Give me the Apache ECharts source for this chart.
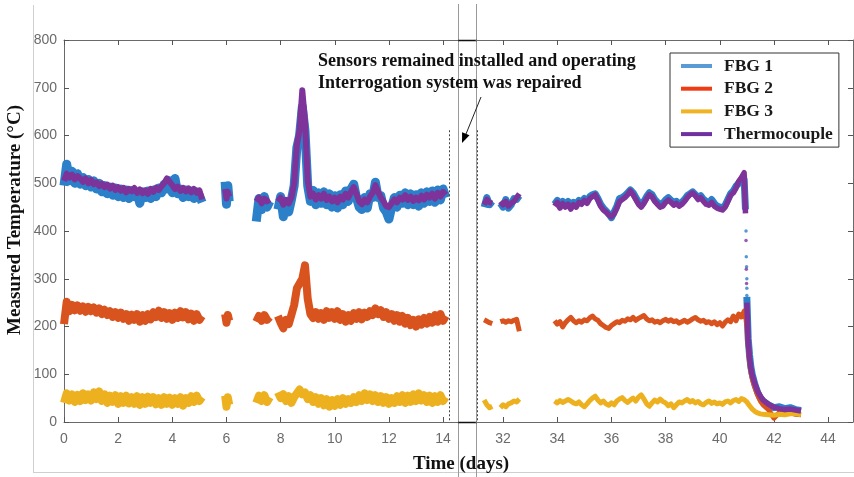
<!DOCTYPE html>
<html><head><meta charset="utf-8">
<script src="https://cdn.jsdelivr.net/npm/echarts@6/dist/echarts.min.js"></script>
<style>html,body{margin:0;padding:0;background:#fff}#c{width:854px;height:477px}</style>
</head><body><div id="c"></div>
<script>
// ---------- data ----------
function steps(start, n) { const a = []; for (let i = 0; i < n; i++) a.push(Math.round((start + i * 0.1) * 100) / 100); return a; }

// sample times of each recorded segment (days)
const tA = steps(0.0, 52);          // 0.0 .. 5.1
const tB = [5.95, 6.0, 6.05, 6.1];
const tC = steps(7.1, 6);           // 7.1 .. 7.6
const tD = steps(7.9, 63);          // 7.9 .. 14.1
const tE = [31.3, 31.4, 31.5, 31.6];
const tF = steps(31.9, 8);          // 31.9 .. 32.6
const tG = steps(33.9, 71);         // 33.9 .. 40.9
const tH = [40.95, 40.97, 41.0, 41.05, 41.1, 41.15, 41.2, 41.3, 41.4, 41.5, 41.6, 41.8, 42.0, 42.2, 42.4, 42.6, 42.8, 43.0];

// FBG 1
const fbg1A = [495,540,505,525,500,520,498,512,495,508,492,505,488,500,482,495,478,492,475,490,472,488,470,486,468,485,472,480,458,482,470,484,468,486,472,490,480,498,488,505,480,510,478,488,470,486,472,484,468,482,474,460];
const fbg1B = [503,456,495,462];
const fbg1C = [420,468,445,472,450,462];
const fbg1D = [445,472,430,462,440,466,495,575,600,660,610,495,462,485,455,480,458,482,455,478,450,474,448,476,455,484,462,488,498,470,450,445,470,448,478,470,502,470,474,448,440,425,450,470,450,475,458,480,455,478,455,476,452,480,458,482,462,484,460,486,465,488,470];
const fbg1E = [450,470,455,462];
const fbg1F = [458,450,466,448,455,468,466,474];
const fbg1G = [456,464,452,462,455,462,450,460,455,464,460,468,462,472,476,478,468,456,448,442,436,428,440,452,468,470,474,480,486,480,470,460,454,462,472,480,476,466,460,456,458,465,470,464,460,462,456,460,466,474,478,482,476,470,474,466,462,458,466,458,452,450,448,454,466,478,484,494,500,505,508];
const fbg1H = [445,null,262,175,140,115,100,78,62,50,44,36,30,32,28,30,26,24];
const fbg1DropT = [40.97, 40.98, 40.99, 41.0, 41.0, 41.0];
const fbg1DropV = [400, 346, 325, 300, 280, 265];

// FBG 2
const fbg2A = [205,252,232,245,234,244,233,242,231,241,232,240,229,238,226,235,224,232,220,230,218,229,216,226,212,225,214,226,210,224,212,226,215,230,220,233,218,230,216,228,214,229,218,232,219,230,215,227,212,226,214,222];
const fbg2B = [226,208,224,212];
const fbg2C = [210,222,212,224,214,220];
const fbg2D = [222,208,196,214,205,225,245,280,290,300,328,258,226,218,230,216,228,214,232,218,230,216,232,214,226,210,224,212,228,216,230,215,229,220,232,224,238,226,234,220,230,216,226,212,224,210,222,206,218,203,214,200,215,204,218,206,220,208,224,210,226,212,222];
const fbg2E = [214,211,208,206];
const fbg2F = [210,212,209,212,210,213,215,190];
const fbg2G = [212,205,210,199,208,214,219,212,208,212,209,214,212,218,222,216,213,206,202,198,196,202,206,210,208,213,211,216,214,219,213,217,220,223,216,212,214,209,211,208,212,215,211,214,210,212,207,210,213,209,212,216,219,214,211,213,208,210,206,210,204,208,201,209,214,210,222,212,226,220,232];
const fbg2H = [228,215,200,160,125,104,90,72,56,44,36,26,8,20,18,19,16,15];

// FBG 3
const fbg3A = [40,60,45,58,42,57,44,60,46,58,45,62,48,64,44,58,40,55,42,56,38,54,40,55,39,52,38,54,36,52,38,53,40,52,37,50,36,52,38,51,36,50,38,52,34,50,40,54,42,55,44,52];
const fbg3B = [55,32,52,36];
const fbg3C = [40,55,44,56,42,52];
const fbg3D = [62,50,58,44,54,40,52,60,68,58,62,48,56,42,52,38,50,35,48,32,46,34,48,36,50,38,48,40,52,42,56,44,60,46,58,44,56,42,54,40,52,38,50,40,54,42,56,40,55,42,58,44,60,45,56,42,55,40,54,42,56,44,52];
const fbg3E = [46,36,30,33];
const fbg3F = [30,36,32,38,40,44,42,48];
const fbg3G = [44,40,45,41,44,47,44,40,38,42,36,32,38,45,50,54,46,40,44,38,35,40,36,44,48,51,45,41,46,50,44,52,57,48,38,33,40,46,42,48,43,40,34,38,30,36,42,40,44,47,42,45,40,43,38,36,41,44,39,42,38,40,37,42,44,40,45,47,43,49,47];
const fbg3H = [48,46,42,38,34,30,27,22,19,17,16,15,14,16,15,17,18,15];

// Thermocouple
const tcA = [505,520,512,518,508,515,510,503,510,500,507,498,502,494,499,492,497,489,495,486,492,484,490,481,488,483,490,480,487,479,485,478,488,482,491,486,494,500,510,503,496,488,493,484,490,483,489,481,488,480,485,466];
const tcB = [488,468,482,472];
const tcC = [462,470,458,468,462,466];
const tcD = [462,470,455,465,458,470,500,580,612,695,630,505,472,478,466,475,468,478,465,472,462,470,460,472,466,478,470,482,492,478,462,456,466,460,472,480,496,482,470,462,452,450,458,466,460,470,466,475,465,472,463,470,464,474,466,476,470,478,468,480,472,482,476];
const tcE = [455,466,460,458];
const tcF = [462,455,462,452,458,462,470,478];
const tcG = [452,460,448,458,450,456,446,455,450,460,456,464,458,468,472,476,465,452,444,440,434,430,436,448,462,466,470,476,484,476,466,456,450,458,468,476,472,462,456,450,452,460,465,460,454,458,452,456,462,470,476,480,474,466,470,462,456,454,460,452,448,446,444,450,462,475,480,490,504,512,522];
const tcH = [437,null,250,168,135,112,98,80,64,54,46,37,31,28,26,27,25,23];
const tcDropT = [40.97, 40.98, 40.99, 41.0];
const tcDropV = [380, 320, 290, 258];

// axes
const yTicks = [0,100,200,300,400,500,600,700,800];
const xTicksLeft = [0,2,4,6,8,10,12,14];
const xTicksRight = [32,34,36,38,40,42,44];
const leftRange = [0, 14.55];
const rightRange = [31, 44.92];
// dotted "break" markers: [time, top value]
const breakLeft = [14.22, 611];
const breakRight = [31.05, 611];

const names = ['FBG 1','FBG 2','FBG 3','Thermocouple'];
const colors = ['#2b80c9','#d9531e','#edb120','#7d3399'];

// ---------- build ----------
function build(segs) {
  const out = [];
  segs.forEach((s, k) => {
    if (k > 0) out.push([s[0][0] - 0.02, '-']);
    s[0].forEach((t, i) => out.push([t, s[1][i] == null ? '-' : s[1][i]]));
  });
  return out;
}
function pairs(ts, vs) { return ts.map((t, i) => [t, vs[i]]); }

const leftData = [
  build([[tA,fbg1A],[tB,fbg1B],[tC,fbg1C],[tD,fbg1D]]),
  build([[tA,fbg2A],[tB,fbg2B],[tC,fbg2C],[tD,fbg2D]]),
  build([[tA,fbg3A],[tB,fbg3B],[tC,fbg3C],[tD,fbg3D]]),
  build([[tA,tcA],[tB,tcB],[tC,tcC],[tD,tcD]])
];
const rightData = [
  build([[tE,fbg1E],[tF,fbg1F],[tG.concat(tH),fbg1G.concat(fbg1H)]]),
  build([[tE,fbg2E],[tF,fbg2F],[tG.concat(tH),fbg2G.concat(fbg2H)]]),
  build([[tE,fbg3E],[tF,fbg3F],[tG.concat(tH),fbg3G.concat(fbg3H)]]),
  build([[tE,tcE],[tF,tcF],[tG.concat(tH),tcG.concat(tcH)]])
];
const leftWidths = [9, 8, 8, 6];
const rightWidths = [7, 5, 5, 5.5];

const dotLine = (t) => ({
  silent: true, symbol: ['none','none'], label: {show:false},
  lineStyle: {type:[2,2], color:'#444', width:1},
  emphasis: {disabled:true},
  data: [[{coord:[t[0], t[1]]},{coord:[t[0], 0]}]]
});

const series = [];
for (let i = 0; i < 4; i++) {
  series.push({
    name: names[i], type:'line', xAxisIndex:0, yAxisIndex:0, data:leftData[i],
    showSymbol:false, symbol:'none', color:colors[i],
    lineStyle:{width:leftWidths[i], color:colors[i], join:'round'}, emphasis:{disabled:true},
    markLine: i === 2 ? dotLine(breakLeft) : undefined
  });
}
for (let i = 0; i < 4; i++) {
  series.push({
    name: names[i], type:'line', xAxisIndex:2, yAxisIndex:1, data:rightData[i],
    showSymbol:false, symbol:'none', color:colors[i],
    lineStyle:{width:rightWidths[i], color:colors[i], join:'round'}, emphasis:{disabled:true},
    markLine: i === 2 ? dotLine(breakRight) : undefined
  });
}
series.push({ name:'FBG 1', type:'scatter', xAxisIndex:2, yAxisIndex:1, symbolSize:3.5, color:colors[0], itemStyle:{color:colors[0]}, data:pairs(fbg1DropT, fbg1DropV) });
series.push({ name:'Thermocouple', type:'scatter', xAxisIndex:2, yAxisIndex:1, symbolSize:3.5, color:colors[3], itemStyle:{color:colors[3]}, data:pairs(tcDropT, tcDropV) });

const axLine = {show:true, lineStyle:{color:'#6a6a6a', width:1}};
const tickIn = (vals) => ({show:true, inside:true, length:5, lineStyle:{color:'#555'}, customValues:vals});
const lblStyle = {color:'#6b6b6b', fontFamily:'Liberation Sans', fontSize:14};

const option = {
  animation:false,
  backgroundColor:'#fff',
  grid:[
    {left:64, top:40, width:394, height:382},
    {left:476, top:40, width:377, height:382}
  ],
  xAxis:[
    {type:'value', gridIndex:0, min:leftRange[0], max:leftRange[1], position:'bottom', axisLine:axLine, axisTick:tickIn(xTicksLeft), splitLine:{show:false}, axisLabel:Object.assign({customValues:xTicksLeft, margin:10}, lblStyle)},
    {type:'value', gridIndex:0, min:leftRange[0], max:leftRange[1], position:'top', axisLine:axLine, axisTick:tickIn(xTicksLeft), splitLine:{show:false}, axisLabel:{show:false}},
    {type:'value', gridIndex:1, min:rightRange[0], max:rightRange[1], position:'bottom', axisLine:axLine, axisTick:tickIn(xTicksRight), splitLine:{show:false}, axisLabel:Object.assign({customValues:xTicksRight, margin:10}, lblStyle)},
    {type:'value', gridIndex:1, min:rightRange[0], max:rightRange[1], position:'top', axisLine:axLine, axisTick:tickIn(xTicksRight), splitLine:{show:false}, axisLabel:{show:false}}
  ],
  yAxis:[
    {type:'value', gridIndex:0, min:0, max:800, interval:100, position:'left', axisLine:axLine, axisTick:tickIn(yTicks), splitLine:{show:false}, axisLabel:Object.assign({margin:7}, lblStyle)},
    {type:'value', gridIndex:1, min:0, max:800, interval:100, position:'right', axisLine:axLine, axisTick:tickIn(yTicks), splitLine:{show:false}, axisLabel:{show:false}}
  ],
  legend:{
    orient:'vertical', left:670, top:53, icon:'rect', itemWidth:31, itemHeight:4, itemGap:4.7,
    padding:[4,6,4,11], borderColor:'#333', borderWidth:1, backgroundColor:'#fff',
    selectedMode:false,
    textStyle:{fontFamily:'Liberation Serif', fontWeight:'bold', fontSize:17.5, color:'#1a1a1a', lineHeight:17, padding:[0,0,0,7]},
    data:[
      {name:'FBG 1', itemStyle:{color:'#5a9bd5'}},
      {name:'FBG 2', itemStyle:{color:'#f03c14'}},
      {name:'FBG 3', itemStyle:{color:'#f0b323'}},
      {name:'Thermocouple', itemStyle:{color:'#7030a0'}}
    ]
  },
  graphic:[
    {type:'line', silent:true, shape:{x1:33.5,y1:5,x2:33.5,y2:472}, style:{stroke:'#cfcfcf', lineWidth:1}},
    {type:'line', silent:true, shape:{x1:33,y1:472.5,x2:854,y2:472.5}, style:{stroke:'#cfcfcf', lineWidth:1}},
    {type:'line', silent:true, shape:{x1:458.5,y1:4,x2:458.5,y2:477}, style:{stroke:'#9a9a9a', lineWidth:1}},
    {type:'line', silent:true, shape:{x1:476.5,y1:4,x2:476.5,y2:477}, style:{stroke:'#9a9a9a', lineWidth:1}},
    {type:'line', silent:true, shape:{x1:458,y1:40.5,x2:477,y2:40.5}, style:{stroke:'#111', lineWidth:1.5}},
    {type:'line', silent:true, shape:{x1:458,y1:422.5,x2:477,y2:422.5}, style:{stroke:'#111', lineWidth:1.5}},
    {type:'text', silent:true, x:318, y:61, style:{text:'Sensors remained installed and operating', font:'bold 18px "Liberation Serif"', fill:'#111', verticalAlign:'middle', align:'left'}},
    {type:'text', silent:true, x:318, y:83, style:{text:'Interrogation system was repaired', font:'bold 18px "Liberation Serif"', fill:'#111', verticalAlign:'middle', align:'left'}},
    {type:'line', silent:true, shape:{x1:481,y1:97,x2:466,y2:134}, style:{stroke:'#222', lineWidth:1}},
    {type:'polygon', silent:true, shape:{points:[[462,143],[469.5,135.2],[462.1,132.2]]}, style:{fill:'#000'}},
    {type:'text', silent:true, x:461, y:464, style:{text:'Time (days)', font:'bold 19px "Liberation Serif"', fill:'#111', verticalAlign:'middle', align:'center'}},
    {type:'text', silent:true, x:15, y:220, rotation:Math.PI/2, style:{text:'Measured Temperature (°C)', font:'bold 19px "Liberation Serif"', fill:'#111', verticalAlign:'middle', align:'center'}}
  ],
  series: series
};
const chart = echarts.init(document.getElementById('c'), null, {renderer:'canvas'});
chart.setOption(option);
</script></body></html>
